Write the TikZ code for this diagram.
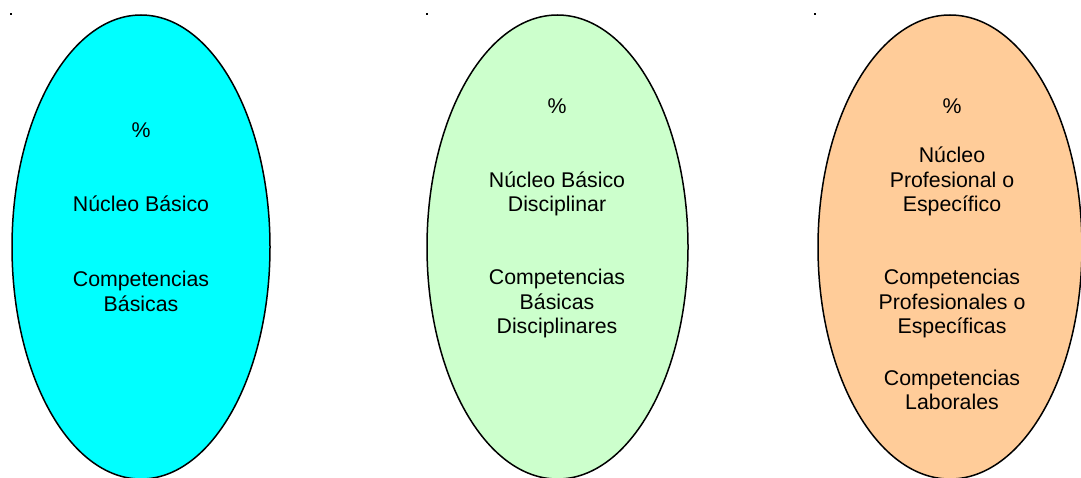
\documentclass[tikz,border=0pt]{standalone}
\usepackage{fontspec}
\setmainfont{Liberation Sans}
\usetikzlibrary{shapes.geometric}
\definecolor{cyanfill}{HTML}{00FFFF}
\definecolor{greenfill}{HTML}{CCFFCC}
\definecolor{peachfill}{HTML}{FFCC99}
\tikzset{
  blob/.style={draw=black, line width=1.5pt, ellipse, inner sep=0pt, minimum width=258pt, minimum height=464pt},
  lbl/.style={inner sep=0pt, align=center, font=\fontsize{21.3}{24.5}\selectfont},
  tick/.style={fill=black, draw=none, inner sep=0pt, minimum size=2.6pt}
}
\begin{document}
\begin{tikzpicture}[x=1pt,y=-1pt]
\useasboundingbox (0,0) rectangle (1081,478);
\node[tick] (d1) at (11,14) {};
\node[tick] (d2) at (427,14) {};
\node[tick] (d3) at (815,14) {};
\node[blob, fill=cyanfill] (e1) at (141,247) {};
\node[blob, fill=greenfill, minimum width=261pt] (e2) at (557.5,247) {};
\node[blob, fill=peachfill, minimum width=264pt] (e3) at (950,247) {};
% ellipse 1
\node[lbl] (a1) at (141,130) {\%};
\node[lbl] (a2) at (141,204) {Núcleo Básico};
\node[lbl] (a3) at (141,291.5) {Competencias\\Básicas};
% ellipse 2
\node[lbl] (b1) at (557,106) {\%};
\node[lbl] (b2) at (557,194) {Núcleo Básico\\Disciplinar};
\node[lbl] (b3) at (557,303.5) {Competencias\\Básicas\\Disciplinares};
% ellipse 3
\node[lbl] (c1) at (952,106) {\%};
\node[lbl] (c2) at (952,181.5) {Núcleo\\Profesional o\\Específico};
\node[lbl] (c3) at (952,303.5) {Competencias\\Profesionales o\\Específicas};
\node[lbl] (c4) at (952,390) {Competencias\\Laborales};
\end{tikzpicture}
\end{document}
